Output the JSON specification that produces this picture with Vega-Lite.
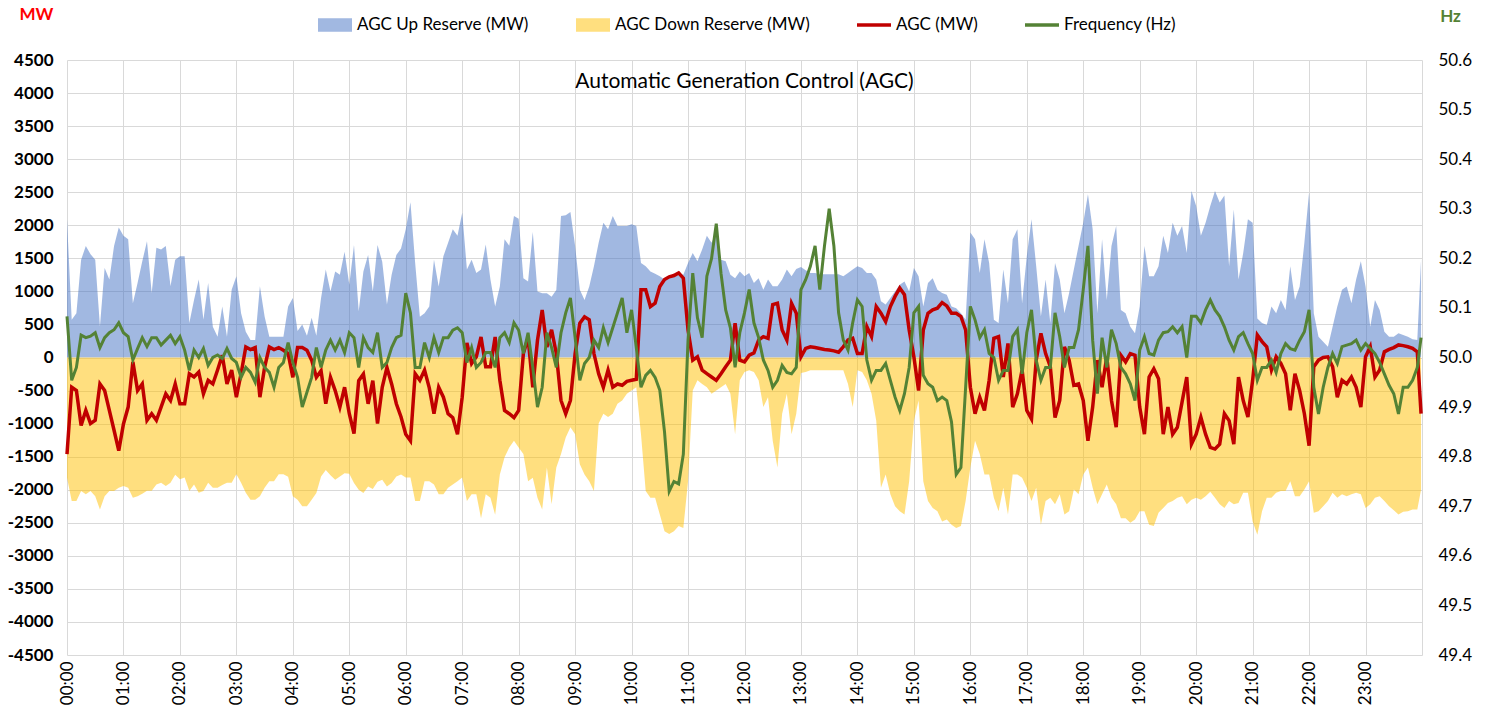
{
"$schema":"https://vega.github.io/schema/vega-lite/v6.json",
"width":1355,"height":595,
"autosize":{"type":"none"},
"padding":{"left":67,"top":60,"right":66,"bottom":57},
"background":"white",
"config":{"view":{"stroke":null},"font":"Lato"},
"title":{"text":"Automatic Generation Control (AGC)","fontSize":21,"fontWeight":"normal","color":"#000000","font":"Lato","offset":0,"dy":108,"baseline":"bottom","anchor":"middle","frame":"group"},
"data":{"values":[
{"t":0,"u":2090,"d":-1815,"a":-1460,"f":50.083},{"t":5,"u":570,"d":-2170,"a":-450,"f":49.954},{"t":10,"u":670,"d":-2170,"a":-500,"f":49.98},{"t":15,"u":1480,"d":-2020,"a":-1030,"f":50.045},{"t":20,"u":1685,"d":-2070,"a":-800,"f":50.04},{"t":25,"u":1560,"d":-2020,"a":-1000,"f":50.043},{"t":30,"u":1480,"d":-2100,"a":-950,"f":50.05},{"t":35,"u":470,"d":-2300,"a":-400,"f":50.02},{"t":40,"u":1355,"d":-2100,"a":-500,"f":50.04},{"t":45,"u":1180,"d":-2020,"a":-800,"f":50.05},{"t":50,"u":1685,"d":-2020,"a":-1100,"f":50.056},{"t":55,"u":1965,"d":-1970,"a":-1410,"f":50.07},
{"t":60,"u":1840,"d":-1945,"a":-1005,"f":50.05},{"t":65,"u":1790,"d":-1970,"a":-750,"f":50.042},{"t":70,"u":820,"d":-2120,"a":-66,"f":49.995},{"t":75,"u":1127,"d":-2100,"a":-500,"f":50.018},{"t":80,"u":1455,"d":-2060,"a":-400,"f":50.04},{"t":85,"u":1760,"d":-2015,"a":-950,"f":50.022},{"t":90,"u":975,"d":-2015,"a":-850,"f":50.04},{"t":95,"u":1660,"d":-1920,"a":-950,"f":50.04},{"t":100,"u":1635,"d":-1895,"a":-750,"f":50.025},{"t":105,"u":1685,"d":-1945,"a":-550,"f":50.035},{"t":110,"u":1076,"d":-1895,"a":-650,"f":50.045},{"t":115,"u":1480,"d":-1775,"a":-400,"f":50.028},
{"t":120,"u":1530,"d":-1840,"a":-700,"f":50.042},{"t":125,"u":1530,"d":-1815,"a":-700,"f":50.015},{"t":130,"u":520,"d":-2020,"a":-245,"f":49.974},{"t":135,"u":870,"d":-1920,"a":-295,"f":50.015},{"t":140,"u":1178,"d":-2045,"a":-220,"f":50.0},{"t":145,"u":570,"d":-2020,"a":-550,"f":50.018},{"t":150,"u":1127,"d":-1895,"a":-345,"f":49.984},{"t":155,"u":467,"d":-1970,"a":-400,"f":50.0},{"t":160,"u":315,"d":-1970,"a":-190,"f":50.005},{"t":165,"u":770,"d":-1930,"a":35,"f":49.998},{"t":170,"u":315,"d":-1895,"a":-400,"f":50.018},{"t":175,"u":1025,"d":-1895,"a":-190,"f":49.998},
{"t":180,"u":1230,"d":-1765,"a":-600,"f":49.99},{"t":185,"u":670,"d":-1895,"a":-245,"f":49.96},{"t":190,"u":390,"d":-2045,"a":160,"f":49.98},{"t":195,"u":264,"d":-2150,"a":120,"f":49.97},{"t":200,"u":264,"d":-2150,"a":150,"f":49.95},{"t":205,"u":1076,"d":-2100,"a":-600,"f":50.0},{"t":210,"u":620,"d":-1970,"a":-150,"f":49.98},{"t":215,"u":315,"d":-1870,"a":160,"f":49.97},{"t":220,"u":315,"d":-1870,"a":120,"f":49.94},{"t":225,"u":315,"d":-1765,"a":150,"f":49.98},{"t":230,"u":315,"d":-1765,"a":110,"f":49.99},{"t":235,"u":770,"d":-1805,"a":60,"f":50.03},
{"t":240,"u":900,"d":-2100,"a":-300,"f":49.99},{"t":245,"u":400,"d":-2150,"a":150,"f":49.96},{"t":250,"u":500,"d":-2250,"a":150,"f":49.9},{"t":255,"u":330,"d":-2250,"a":110,"f":49.93},{"t":260,"u":600,"d":-2150,"a":-40,"f":49.96},{"t":265,"u":330,"d":-2050,"a":-300,"f":50.02},{"t":270,"u":900,"d":-1800,"a":-200,"f":49.98},{"t":275,"u":1330,"d":-1700,"a":-700,"f":50.015},{"t":280,"u":1000,"d":-1780,"a":-300,"f":50.035},{"t":285,"u":1300,"d":-1850,"a":-500,"f":50.015},{"t":290,"u":1250,"d":-1800,"a":-750,"f":50.035},{"t":295,"u":1600,"d":-1750,"a":-450,"f":50.01},
{"t":300,"u":1100,"d":-1760,"a":-850,"f":50.05},{"t":305,"u":1700,"d":-1900,"a":-1150,"f":50.04},{"t":310,"u":700,"d":-2000,"a":-350,"f":49.98},{"t":315,"u":1300,"d":-2050,"a":-250,"f":50.04},{"t":320,"u":1550,"d":-1950,"a":-700,"f":50.02},{"t":325,"u":1000,"d":-1990,"a":-350,"f":50.01},{"t":330,"u":1700,"d":-1880,"a":-1000,"f":50.05},{"t":335,"u":1450,"d":-1850,"a":-450,"f":49.98},{"t":340,"u":800,"d":-1950,"a":-150,"f":49.99},{"t":345,"u":1250,"d":-1900,"a":-400,"f":50.02},{"t":350,"u":1550,"d":-1800,"a":-700,"f":50.04},{"t":355,"u":1650,"d":-1770,"a":-900,"f":50.045},
{"t":360,"u":1940,"d":-1815,"a":-1160,"f":50.13},{"t":365,"u":2350,"d":-1815,"a":-1260,"f":50.09},{"t":370,"u":1430,"d":-2170,"a":-245,"f":49.98},{"t":375,"u":615,"d":-2170,"a":-345,"f":49.98},{"t":380,"u":670,"d":-1870,"a":-190,"f":50.03},{"t":385,"u":770,"d":-1870,"a":-460,"f":50.0},{"t":390,"u":1480,"d":-1920,"a":-850,"f":50.04},{"t":395,"u":1075,"d":-2070,"a":-450,"f":50.01},{"t":400,"u":1530,"d":-2070,"a":-600,"f":50.04},{"t":405,"u":1735,"d":-1970,"a":-850,"f":50.04},{"t":410,"u":1940,"d":-1920,"a":-910,"f":50.055},{"t":415,"u":1840,"d":-1870,"a":-1160,"f":50.06},
{"t":420,"u":2190,"d":-1815,"a":-600,"f":50.05},{"t":425,"u":1330,"d":-2170,"a":220,"f":49.99},{"t":430,"u":1480,"d":-2070,"a":-90,"f":50.02},{"t":435,"u":1280,"d":-2070,"a":10,"f":49.98},{"t":440,"u":1330,"d":-2430,"a":310,"f":49.99},{"t":445,"u":1710,"d":-2070,"a":-140,"f":50.01},{"t":450,"u":1180,"d":-2120,"a":-140,"f":50.01},{"t":455,"u":770,"d":-2380,"a":310,"f":49.98},{"t":460,"u":1075,"d":-1770,"a":-345,"f":50.04},{"t":465,"u":1790,"d":-1510,"a":-800,"f":50.05},{"t":470,"u":1690,"d":-1360,"a":-850,"f":50.03},{"t":475,"u":2140,"d":-1260,"a":-910,"f":50.07},
{"t":480,"u":2100,"d":-1360,"a":-800,"f":50.055},{"t":485,"u":1200,"d":-1460,"a":60,"f":50.008},{"t":490,"u":1150,"d":-1870,"a":300,"f":50.05},{"t":495,"u":1900,"d":-1820,"a":-450,"f":49.98},{"t":500,"u":1000,"d":-2120,"a":260,"f":49.9},{"t":505,"u":970,"d":-2300,"a":720,"f":49.94},{"t":510,"u":970,"d":-1665,"a":160,"f":50.05},{"t":515,"u":920,"d":-2220,"a":420,"f":50.02},{"t":520,"u":1020,"d":-1665,"a":60,"f":49.98},{"t":525,"u":2140,"d":-1460,"a":-650,"f":50.05},{"t":530,"u":2150,"d":-1210,"a":-850,"f":50.09},{"t":535,"u":2200,"d":-1055,"a":-650,"f":50.12},
{"t":540,"u":1685,"d":-1160,"a":60,"f":50.04},{"t":545,"u":1025,"d":-1615,"a":520,"f":49.954},{"t":550,"u":870,"d":-1770,"a":615,"f":49.988},{"t":555,"u":1075,"d":-1870,"a":570,"f":50.0},{"t":560,"u":1380,"d":-2020,"a":60,"f":50.035},{"t":565,"u":1735,"d":-1000,"a":-245,"f":50.02},{"t":570,"u":2040,"d":-850,"a":-450,"f":50.06},{"t":575,"u":1940,"d":-900,"a":-190,"f":50.03},{"t":580,"u":2140,"d":-850,"a":-450,"f":50.06},{"t":585,"u":1990,"d":-700,"a":-400,"f":50.09},{"t":590,"u":1990,"d":-650,"a":-420,"f":50.12},{"t":595,"u":1990,"d":-550,"a":-360,"f":50.05},
{"t":600,"u":2015,"d":-500,"a":-345,"f":50.096},{"t":605,"u":1990,"d":-450,"a":-330,"f":50.02},{"t":610,"u":1430,"d":-1160,"a":1025,"f":49.94},{"t":615,"u":1380,"d":-2020,"a":1025,"f":49.964},{"t":620,"u":1300,"d":-2120,"a":770,"f":49.974},{"t":625,"u":1265,"d":-2120,"a":820,"f":49.96},{"t":630,"u":1230,"d":-2376,"a":1075,"f":49.934},{"t":635,"u":1180,"d":-2630,"a":1180,"f":49.85},{"t":640,"u":1210,"d":-2670,"a":1220,"f":49.73},{"t":645,"u":1230,"d":-2630,"a":1240,"f":49.75},{"t":650,"u":1270,"d":-2550,"a":1280,"f":49.745},{"t":655,"u":1250,"d":-2580,"a":1200,"f":49.805},
{"t":660,"u":1430,"d":-1870,"a":416,"f":50.035},{"t":665,"u":1580,"d":-500,"a":-40,"f":50.17},{"t":670,"u":1455,"d":-345,"a":10,"f":50.08},{"t":675,"u":1635,"d":-400,"a":-190,"f":50.04},{"t":680,"u":1840,"d":-450,"a":-245,"f":50.164},{"t":685,"u":1735,"d":-550,"a":-295,"f":50.2},{"t":690,"u":1890,"d":-500,"a":-345,"f":50.27},{"t":695,"u":1480,"d":-450,"a":-245,"f":50.17},{"t":700,"u":1455,"d":-400,"a":-140,"f":50.096},{"t":705,"u":1250,"d":-550,"a":-40,"f":50.06},{"t":710,"u":1200,"d":-1160,"a":520,"f":49.98},{"t":715,"u":1300,"d":-345,"a":-40,"f":50.05},
{"t":720,"u":1230,"d":-218,"a":-66,"f":50.09},{"t":725,"u":1280,"d":-193,"a":35,"f":50.137},{"t":730,"u":1127,"d":-218,"a":70,"f":50.07},{"t":735,"u":1200,"d":-345,"a":264,"f":50.04},{"t":740,"u":1025,"d":-750,"a":315,"f":49.995},{"t":745,"u":1178,"d":-600,"a":290,"f":49.974},{"t":750,"u":1076,"d":-1260,"a":800,"f":49.94},{"t":755,"u":1076,"d":-1665,"a":820,"f":49.954},{"t":760,"u":1178,"d":-850,"a":416,"f":49.984},{"t":765,"u":1330,"d":-550,"a":264,"f":49.97},{"t":770,"u":1230,"d":-1160,"a":820,"f":49.967},{"t":775,"u":1340,"d":-850,"a":670,"f":49.98},
{"t":780,"u":1370,"d":-235,"a":10,"f":50.137},{"t":785,"u":1320,"d":-218,"a":137,"f":50.157},{"t":790,"u":1280,"d":-193,"a":162,"f":50.184},{"t":795,"u":1280,"d":-193,"a":152,"f":50.225},{"t":800,"u":1260,"d":-193,"a":137,"f":50.137},{"t":805,"u":1260,"d":-193,"a":122,"f":50.225},{"t":810,"u":1260,"d":-193,"a":112,"f":50.3},{"t":815,"u":1260,"d":-193,"a":100,"f":50.225},{"t":820,"u":1260,"d":-193,"a":80,"f":50.09},{"t":825,"u":1230,"d":-193,"a":162,"f":50.035},{"t":830,"u":1280,"d":-400,"a":264,"f":50.015},{"t":835,"u":1330,"d":-750,"a":290,"f":50.07},
{"t":840,"u":1380,"d":-193,"a":60,"f":50.116},{"t":845,"u":1355,"d":-218,"a":60,"f":50.103},{"t":850,"u":1280,"d":-345,"a":467,"f":49.995},{"t":855,"u":1280,"d":-550,"a":315,"f":49.954},{"t":860,"u":1180,"d":-955,"a":770,"f":49.974},{"t":865,"u":850,"d":-1970,"a":670,"f":49.974},{"t":870,"u":800,"d":-1770,"a":543,"f":49.988},{"t":875,"u":900,"d":-2070,"a":770,"f":49.954},{"t":880,"u":1000,"d":-2250,"a":924,"f":49.92},{"t":885,"u":1100,"d":-2325,"a":1050,"f":49.893},{"t":890,"u":1150,"d":-2376,"a":950,"f":49.927},{"t":895,"u":1000,"d":-1870,"a":416,"f":49.98},
{"t":900,"u":1355,"d":-955,"a":10,"f":50.09},{"t":905,"u":1230,"d":-650,"a":-500,"f":50.103},{"t":910,"u":770,"d":-1870,"a":416,"f":49.964},{"t":915,"u":1127,"d":-2170,"a":670,"f":49.947},{"t":920,"u":1200,"d":-2275,"a":720,"f":49.94},{"t":925,"u":1025,"d":-2325,"a":745,"f":49.913},{"t":930,"u":975,"d":-2480,"a":830,"f":49.92},{"t":935,"u":950,"d":-2450,"a":780,"f":49.913},{"t":940,"u":770,"d":-2530,"a":670,"f":49.87},{"t":945,"u":745,"d":-2580,"a":670,"f":49.764},{"t":950,"u":670,"d":-2550,"a":620,"f":49.778},{"t":955,"u":570,"d":-2170,"a":416,"f":49.94},
{"t":960,"u":1890,"d":-1665,"a":-450,"f":50.103},{"t":965,"u":1790,"d":-1260,"a":-850,"f":50.076},{"t":970,"u":1280,"d":-1460,"a":-600,"f":50.04},{"t":975,"u":1790,"d":-1770,"a":-800,"f":50.056},{"t":980,"u":1430,"d":-1770,"a":-345,"f":50.008},{"t":985,"u":570,"d":-2120,"a":290,"f":50.0},{"t":990,"u":520,"d":-2325,"a":315,"f":49.954},{"t":995,"u":1330,"d":-1970,"a":-295,"f":49.974},{"t":1000,"u":820,"d":-2376,"a":213,"f":49.974},{"t":1005,"u":1790,"d":-1770,"a":-750,"f":50.042},{"t":1010,"u":1940,"d":-1770,"a":-550,"f":50.056},{"t":1015,"u":820,"d":-1820,"a":-190,"f":49.967},
{"t":1020,"u":1530,"d":-1970,"a":-800,"f":50.05},{"t":1025,"u":2090,"d":-2170,"a":-930,"f":50.096},{"t":1030,"u":1380,"d":-1970,"a":-40,"f":49.995},{"t":1035,"u":620,"d":-2530,"a":365,"f":49.954},{"t":1040,"u":1178,"d":-2170,"a":60,"f":49.98},{"t":1045,"u":520,"d":-2120,"a":-140,"f":49.98},{"t":1050,"u":1430,"d":-2220,"a":-910,"f":50.09},{"t":1055,"u":1178,"d":-2070,"a":-650,"f":50.042},{"t":1060,"u":670,"d":-2376,"a":162,"f":49.98},{"t":1065,"u":975,"d":-2325,"a":-40,"f":50.02},{"t":1070,"u":1330,"d":-1995,"a":-420,"f":50.02},{"t":1075,"u":1685,"d":-2070,"a":-400,"f":50.056},
{"t":1080,"u":2040,"d":-1770,"a":-650,"f":50.137},{"t":1085,"u":2470,"d":-1665,"a":-1260,"f":50.225},{"t":1090,"u":1940,"d":-1970,"a":-750,"f":50.035},{"t":1095,"u":670,"d":-2220,"a":-40,"f":49.927},{"t":1100,"u":1790,"d":-2070,"a":-450,"f":50.04},{"t":1105,"u":870,"d":-1920,"a":10,"f":49.98},{"t":1110,"u":1685,"d":-2120,"a":-650,"f":50.056},{"t":1115,"u":1990,"d":-2220,"a":-1055,"f":50.028},{"t":1120,"u":720,"d":-2430,"a":35,"f":49.98},{"t":1125,"u":670,"d":-2430,"a":-66,"f":49.967},{"t":1130,"u":467,"d":-2500,"a":60,"f":49.947},{"t":1135,"u":365,"d":-2450,"a":35,"f":49.913},
{"t":1140,"u":770,"d":-2325,"a":-750,"f":50.015},{"t":1145,"u":1685,"d":-2325,"a":-1160,"f":50.042},{"t":1150,"u":1230,"d":-2530,"a":-295,"f":50.008},{"t":1155,"u":1230,"d":-2550,"a":-170,"f":50.005},{"t":1160,"u":1380,"d":-2350,"a":-320,"f":50.035},{"t":1165,"u":1840,"d":-2275,"a":-1160,"f":50.05},{"t":1170,"u":1580,"d":-2200,"a":-750,"f":50.052},{"t":1175,"u":2040,"d":-2170,"a":-1160,"f":50.062},{"t":1180,"u":1840,"d":-2120,"a":-1055,"f":50.05},{"t":1185,"u":1990,"d":-2100,"a":-675,"f":50.062},{"t":1190,"u":1580,"d":-2220,"a":-295,"f":50.0},{"t":1195,"u":2520,"d":-2150,"a":-1310,"f":50.083},
{"t":1200,"u":2290,"d":-2120,"a":-1160,"f":50.083},{"t":1205,"u":1840,"d":-2150,"a":-905,"f":50.07},{"t":1210,"u":2040,"d":-2100,"a":-1160,"f":50.096},{"t":1215,"u":2290,"d":-2030,"a":-1360,"f":50.116},{"t":1220,"u":2520,"d":-2120,"a":-1385,"f":50.096},{"t":1225,"u":2345,"d":-2220,"a":-1310,"f":50.083},{"t":1230,"u":2450,"d":-2275,"a":-850,"f":50.062},{"t":1235,"u":1380,"d":-2170,"a":-955,"f":50.035},{"t":1240,"u":2240,"d":-2220,"a":-1310,"f":50.015},{"t":1245,"u":1180,"d":-2200,"a":-295,"f":50.042},{"t":1250,"u":1580,"d":-2045,"a":-650,"f":50.05},{"t":1255,"u":2090,"d":-2045,"a":-900,"f":50.028},
{"t":1260,"u":2040,"d":-2480,"a":-345,"f":50.008},{"t":1265,"u":590,"d":-2680,"a":340,"f":49.954},{"t":1270,"u":520,"d":-2325,"a":240,"f":49.98},{"t":1275,"u":490,"d":-2120,"a":162,"f":49.98},{"t":1280,"u":770,"d":-2120,"a":-190,"f":49.995},{"t":1285,"u":670,"d":-2045,"a":10,"f":49.97},{"t":1290,"u":870,"d":-2020,"a":-90,"f":50.008},{"t":1295,"u":720,"d":-2020,"a":-245,"f":50.028},{"t":1300,"u":1380,"d":-1870,"a":-800,"f":50.018},{"t":1305,"u":870,"d":-2100,"a":-245,"f":50.015},{"t":1310,"u":1075,"d":-2100,"a":-500,"f":50.035},{"t":1315,"u":1735,"d":-1995,"a":-850,"f":50.052},
{"t":1320,"u":2500,"d":-1870,"a":-1335,"f":50.096},{"t":1325,"u":670,"d":-2350,"a":-140,"f":49.94},{"t":1330,"u":315,"d":-2325,"a":-40,"f":49.886},{"t":1335,"u":240,"d":-2250,"a":0,"f":49.94},{"t":1340,"u":162,"d":-2170,"a":10,"f":49.98},{"t":1345,"u":467,"d":-2045,"a":-140,"f":50.008},{"t":1350,"u":770,"d":-2120,"a":-600,"f":49.988},{"t":1355,"u":1025,"d":-2070,"a":-345,"f":50.022},{"t":1360,"u":1075,"d":-2100,"a":-400,"f":50.025},{"t":1365,"u":820,"d":-2070,"a":-295,"f":50.028},{"t":1370,"u":1178,"d":-2045,"a":-450,"f":50.035},{"t":1375,"u":1455,"d":-2070,"a":-750,"f":50.015},
{"t":1380,"u":1075,"d":-2275,"a":10,"f":50.028},{"t":1385,"u":467,"d":-2220,"a":162,"f":50.018},{"t":1390,"u":870,"d":-2120,"a":-295,"f":50.008},{"t":1395,"u":720,"d":-2100,"a":-190,"f":49.99},{"t":1400,"u":390,"d":-2170,"a":86,"f":49.967},{"t":1405,"u":315,"d":-2250,"a":122,"f":49.944},{"t":1410,"u":315,"d":-2310,"a":150,"f":49.927},{"t":1415,"u":365,"d":-2376,"a":190,"f":49.886},{"t":1420,"u":340,"d":-2335,"a":180,"f":49.94},{"t":1425,"u":315,"d":-2325,"a":162,"f":49.94},{"t":1430,"u":275,"d":-2300,"a":137,"f":49.954},{"t":1435,"u":265,"d":-2300,"a":86,"f":49.98},{"t":1439,"u":1480,"d":-2000,"a":-850,"f":50.04}
]},
"layer":[
{"layer":[
{"mark":{"type":"area","opacity":0.5},
"encoding":{
"x":{"field":"t","type":"quantitative","scale":{"domain":[0,1440],"nice":false,"zero":false},
"axis":{"values":[0,60,120,180,240,300,360,420,480,540,600,660,720,780,840,900,960,1020,1080,1140,1200,1260,1320,1380,1440],"tickCount":30,
"labelExpr":"datum.value >= 1440 ? '' : (floor(datum.value/60) < 10 ? '0' : '') + floor(datum.value/60) + ':00'",
"labelAngle":270,"labelFontSize":17,"labelFont":"Lato","labelColor":"#000000","labelPadding":6,"labelOverlap":false,
"grid":true,"gridColor":"#D9D9D9","gridWidth":1,"domain":false,"ticks":false,"title":null}},
"y":{"field":"u","type":"quantitative","scale":{"domain":[-4500,4500],"nice":false,"zero":false},
"axis":{"values":[-4500,-4000,-3500,-3000,-2500,-2000,-1500,-1000,-500,0,500,1000,1500,2000,2500,3000,3500,4000,4500],"tickCount":25,
"labelExpr":"'' + datum.value","labelOverlap":false,"grid":true,"gridColor":"#D9D9D9","gridWidth":1,"domain":false,"ticks":false,
"labelFontSize":17,"labelFontWeight":"bold","labelFont":"Lato","labelColor":"#000000","labelPadding":14,
"title":"MW","titleAngle":0,"titleColor":"#FF0000","titleFont":"Lato","titleFontSize":17,"titleFontWeight":"bold","titleX":-31,"titleY":-54,"titleAlign":"center","titleBaseline":"top"}},
"y2":{"datum":0},
"color":{"datum":"AGC Up Reserve (MW)","type":"nominal",
"scale":{"domain":["AGC Up Reserve (MW)","AGC Down Reserve (MW)","AGC (MW)","Frequency (Hz)"],"range":["#4472C4","#FFC000","#C00000","#548235"]},
"legend":{"orient":"none","legendX":251,"legendY":-52,"direction":"horizontal","title":null,
"labelFontSize":17,"labelFont":"Lato","labelColor":"#000000","labelLimit":400,"symbolSize":1156,"symbolStrokeWidth":0,"labelOffset":5,"columnPadding":47,
"encoding":{"symbols":{
"shape":{"value":{"expr":"indexof(['AGC (MW)','Frequency (Hz)'], datum.value) >= 0 ? 'M-1,-0.4M1,0.4M-1,-0.1H1V0.1H-1Z' : 'M-1,-0.4H1V0.4H-1Z'"}},
"fill":{"value":{"expr":"scale('color', datum.value)"}},
"fillOpacity":{"value":{"expr":"indexof(['AGC (MW)','Frequency (Hz)'], datum.value) >= 0 ? 1 : 0.5"}},
"stroke":{"value":"transparent"},
"strokeWidth":{"value":0},
"opacity":{"value":1},"strokeOpacity":{"value":0}}}}}
}},
{"mark":{"type":"area","opacity":0.5},
"encoding":{"x":{"field":"t","type":"quantitative"},"y":{"field":"d","type":"quantitative"},"y2":{"datum":0},
"color":{"datum":"AGC Down Reserve (MW)","type":"nominal","legend":null}}},
{"mark":{"type":"line","strokeWidth":3.5},
"encoding":{"x":{"field":"t","type":"quantitative"},"y":{"field":"a","type":"quantitative"},
"color":{"datum":"AGC (MW)","type":"nominal","legend":null}}}
]},
{"mark":{"type":"line","strokeWidth":3},
"encoding":{"x":{"field":"t","type":"quantitative"},
"y":{"field":"f","type":"quantitative","scale":{"domain":[49.4,50.6],"nice":false,"zero":false},
"axis":{"orient":"right","values":[49.4,49.5,49.6,49.7,49.8,49.9,50.0,50.1,50.2,50.3,50.4,50.5,50.6],"tickCount":20,"format":".1f","labelOverlap":false,
"grid":false,"domain":false,"ticks":false,"labelFontSize":17,"labelFont":"Lato","labelColor":"#000000","labelPadding":16,
"title":"Hz","titleAngle":0,"titleColor":"#548235","titleFont":"Lato","titleFontSize":17,"titleFontWeight":"bold","titleX":28,"titleY":-52,"titleAlign":"center","titleBaseline":"top"}},
"color":{"datum":"Frequency (Hz)","type":"nominal","legend":null}}}
],
"resolve":{"scale":{"y":"independent"}}
}
